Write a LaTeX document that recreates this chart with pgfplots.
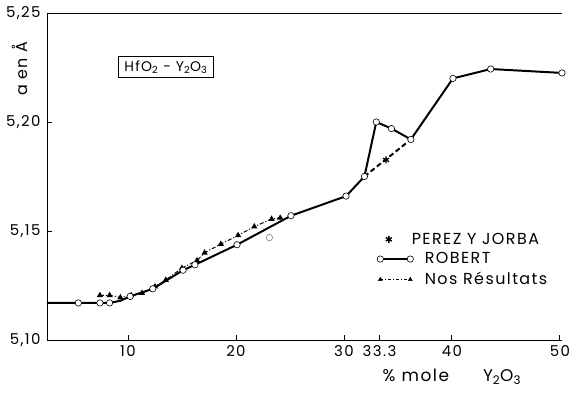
\documentclass[border=0pt]{standalone}
\usepackage{pgfplots}
\pgfplotsset{compat=1.18}
\usepackage{fontspec}
\setmainfont{Poppins}[LetterSpace=9]
\begin{document}
\begin{tikzpicture}
\begin{axis}[
  width=515bp, height=327bp, scale only axis,
  xmin=2.5, xmax=50.2, ymin=5.10, ymax=5.25,
  axis x line*=box, axis y line*=left,
  axis line style={line width=0.8pt},
  xtick={10,20,30,33.3,40,50},
  xticklabels={10,20,30,33.3,40,50},
  ytick={5.10,5.15,5.20,5.25},
  tick align=inside, tick style={line width=0.8pt, black},
  major tick length=5bp,
  xtick pos=bottom,
  /pgf/number format/assume math mode=true,
  /pgf/number format/.cd, fixed, fixed zerofill, precision=2, use comma, 1000 sep={},
  /pgfplots/.cd,
  ticklabel style={font=\fontsize{15}{17}\selectfont},
  xticklabel style={yshift=-2bp},
  yticklabel style={xshift=-3bp},
  clip=false,
  legend style={draw=none, fill=none, font=\fontsize{16}{18}\selectfont,
    at={(rel axis cs:0.64,0.334)}, anchor=north west,
    row sep=3bp, inner sep=0pt},
  legend cell align=left,
]
% legend entries
\addlegendimage{only marks, mark=asterisk, mark size=3.5bp, line width=1.4pt}
\addlegendentry{\hspace*{-4bp}PEREZ Y JORBA}
\addlegendimage{legend image code/.code={
  \draw[line width=2pt] (0bp,0bp) -- (30bp,0bp);
  \draw[fill=white, line width=0.6pt] (0bp,0bp) circle (3.2bp);
  \draw[fill=white, line width=0.6pt] (30bp,0bp) circle (3.2bp);}}
\addlegendentry{\hspace*{9bp}ROBERT}
\addlegendimage{legend image code/.code={
  \draw[line width=0.9pt, dash pattern=on 3bp off 2bp on 1bp off 2bp] (0bp,0bp) -- (30bp,0bp);
  \fill (-2bp,-1.2bp) -- (2bp,-1.2bp) -- (0bp,2.2bp) -- cycle;
  \fill (28bp,-1.2bp) -- (32bp,-1.2bp) -- (30bp,2.2bp) -- cycle;}}
\addlegendentry{\hspace*{9bp}Nos Résultats}

% Nos Resultats
\addplot[forget plot, line width=1pt, dash pattern=on 4bp off 2bp on 1bp off 2bp,
  mark=triangle*, mark size=2.6bp, mark options={solid}]
  coordinates {(7.4,5.1205) (8.3,5.1205) (9.3,5.1195) (10.3,5.1205) (11.3,5.1215)
  (12.5,5.1245) (13.5,5.1275) (15.0,5.1330) (16.4,5.1365) (17.1,5.1400)
  (18.6,5.1440) (20.2,5.1480) (21.7,5.1520) (23.3,5.1555) (24.1,5.1560)};

% ROBERT line
\addplot[forget plot, line width=2pt]
  coordinates {(2.5,5.117) (5.4,5.117) (7.4,5.117) (8.3,5.117) (9.3,5.118)
  (10.2,5.120) (12.3,5.1235) (15.1,5.132) (16.2,5.1345) (20.1,5.1437)
  (25.1,5.157) (30.2,5.166) (31.9,5.175) (33.0,5.200) (34.4,5.197)
  (36.2,5.192) (40.1,5.220) (43.6,5.2243) (50.2,5.2225)};
% dashed branch
\addplot[forget plot, line width=2pt, dash pattern=on 5bp off 3bp]
  coordinates {(31.9,5.175) (36.2,5.192)};
% ROBERT circles
\addplot[forget plot, only marks, mark=*, mark size=3.2bp,
  mark options={fill=white, draw=black, line width=0.6pt}]
  coordinates {(5.4,5.117) (7.4,5.117) (8.3,5.117)
  (10.2,5.120) (12.3,5.1235) (15.1,5.132) (16.2,5.1345) (20.1,5.1437)
  (25.1,5.157) (30.2,5.166) (31.9,5.175) (33.0,5.200) (34.4,5.197)
  (36.2,5.192) (40.1,5.220) (43.6,5.2243) (50.2,5.2225)};
\addplot[forget plot, only marks, mark=*, mark size=3.2bp,
  mark options={fill=white, draw=gray, line width=0.6pt}]
  coordinates {(23.1,5.147)};
% PEREZ Y JORBA
\addplot[forget plot, only marks, mark=asterisk, mark size=3.5bp, line width=1.4pt]
  coordinates {(33.9,5.1826)};

% inset label
\node[draw, line width=0.8pt, inner xsep=6bp, inner ysep=4bp,
  font=\fontsize{14}{16}\selectfont]
  at (rel axis cs:0.231,0.835) {HfO\textsubscript{2} - Y\textsubscript{2}O\textsubscript{3}};
% axis labels
\node[rotate=90, font=\fontsize{16}{18}\selectfont]
  at (rel axis cs:-0.052,0.83) {a en Å};
\node[font=\fontsize{17}{19}\selectfont]
  at (axis cs:40,5.10) [yshift=-37bp] {\%\ mole\qquad Y\textsubscript{2}O\textsubscript{3}};
\end{axis}
\pgfresetboundingbox
\path[use as bounding box] ([shift={(-47bp,-65bp)}]current axis.south west)
  rectangle ([shift={(7bp,13bp)}]current axis.north east);
\end{tikzpicture}
\end{document}
